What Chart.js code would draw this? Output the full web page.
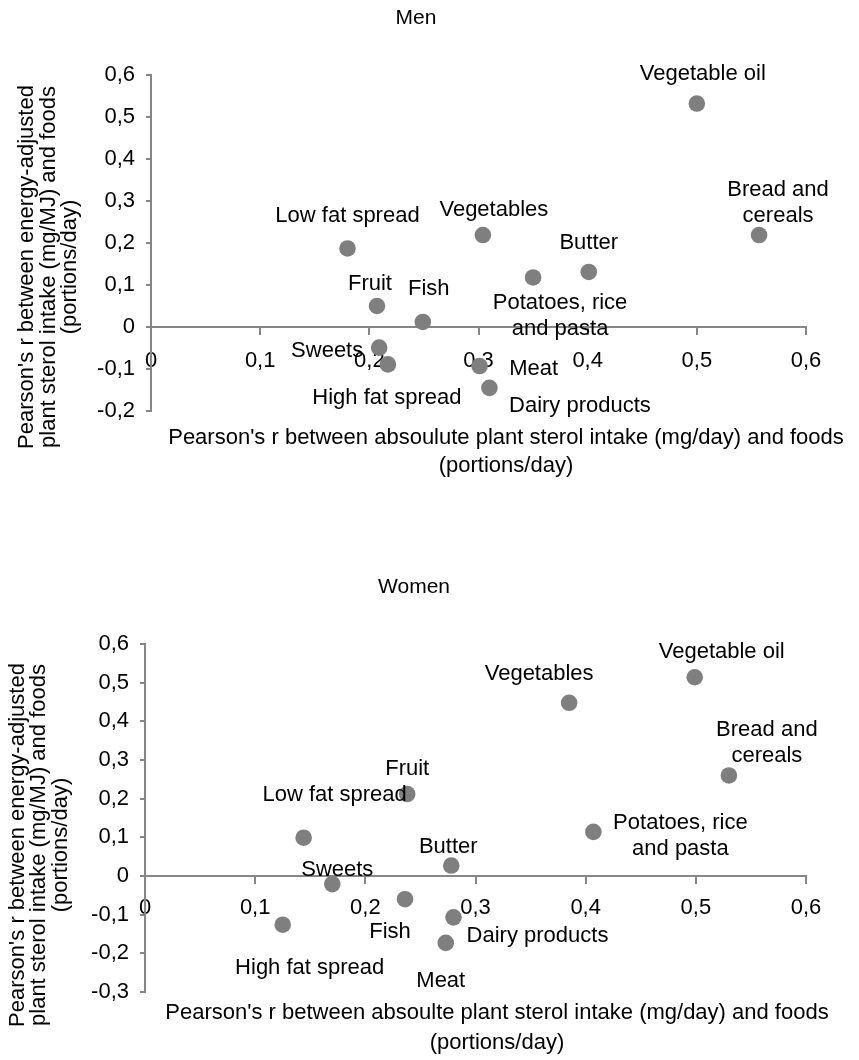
<!DOCTYPE html>
<html>
<head>
<meta charset="utf-8">
<script src="https://cdn.jsdelivr.net/npm/chart.js@4.4.0/dist/chart.umd.min.js"></script>
<style>
html,body{margin:0;padding:0;background:#fff;}
#wrap{position:relative;width:859px;height:1060px;overflow:hidden;background:#fff;}
.box{position:absolute;left:0;width:859px;height:530px;}
</style>
</head>
<body>
<div id="wrap">
  <div class="box" style="top:0"><canvas id="men"></canvas></div>
  <div class="box" style="top:530px"><canvas id="women"></canvas></div>
</div>
<script>
// ---------- data ----------
const categories = ['Vegetable oil', 'Bread and\ncereals', 'Vegetables', 'Butter', 'Potatoes, rice\nand pasta',
  'Low fat spread', 'Fruit', 'Fish', 'Sweets', 'High fat spread', 'Meat', 'Dairy products'];

const menX   = [0.500, 0.557, 0.304, 0.401, 0.350, 0.180, 0.207, 0.249, 0.209, 0.217, 0.301, 0.310];
const menY   = [0.532, 0.219, 0.219, 0.131, 0.118, 0.187, 0.050, 0.012, -0.049, -0.089, -0.093, -0.145];

const womenX = [0.499, 0.530, 0.385, 0.278, 0.407, 0.144, 0.238, 0.236, 0.170, 0.125, 0.273, 0.280];
const womenY = [0.514, 0.260, 0.448, 0.027, 0.114, 0.099, 0.212, -0.060, -0.021, -0.126, -0.173, -0.107];

const xTickValues = [0, 0.1, 0.2, 0.3, 0.4, 0.5, 0.6];
const xTickLabels = ['0', '0,1', '0,2', '0,3', '0,4', '0,5', '0,6'];
const menYTickValues = [-0.2, -0.1, 0, 0.1, 0.2, 0.3, 0.4, 0.5, 0.6];
const menYTickLabels = ['-0,2', '-0,1', '0', '0,1', '0,2', '0,3', '0,4', '0,5', '0,6'];
const womenYTickValues = [-0.3, -0.2, -0.1, 0, 0.1, 0.2, 0.3, 0.4, 0.5, 0.6];
const womenYTickLabels = ['-0,3', '-0,2', '-0,1', '0', '0,1', '0,2', '0,3', '0,4', '0,5', '0,6'];

const yTitleLines = ["Pearson's r between energy-adjusted", 'plant sterol intake (mg/MJ) and foods', '(portions/day)'];
const xTitleLines = ["Pearson's r between absoulute plant sterol intake (mg/day) and foods", '(portions/day)'];
const menXTitleLines = xTitleLines;
const womenXTitleLines = ["Pearson's r between absoulte plant sterol intake (mg/day) and foods", '(portions/day)'];

// ---------- styles ----------
const FONT = "'Liberation Sans', Arial, Helvetica, sans-serif";
const AXIS = '#868686';
const DOT = '#7f7f7f';

// label offsets (pixels, centre of text block relative to point)
const menLabelOffsets = [[6,-30],[19,-32],[11,-25],[0,-29],[27,38.5],[0,-33],[-7,-22],[6,-33],[-52,3],[-1,34],[54,2.5],[90.5,18]];
const womenLabelOffsets = [[27,-25],[38,-32.5],[-30,-29],[-3,-19],[87,4],[31,-43],[0,-25],[-15,33],[5,-14],[27,43],[-5,38],[84,19]];

const textPlugin = {
  id: 'texts',
  afterDatasetsDraw(chart, args, opts) {
    const ctx = chart.ctx;
    ctx.save();
    ctx.fillStyle = '#000';
    ctx.textAlign = 'center';
    ctx.textBaseline = 'middle';
    // point labels
    const meta = chart.getDatasetMeta(0);
    ctx.font = '22px ' + FONT;
    meta.data.forEach((pt, i) => {
      const lines = categories[i].split('\n');
      const off = opts.offsets[i];
      const lh = 25.5;
      const y0 = pt.y + off[1] - (lines.length - 1) * lh / 2;
      lines.forEach((ln, k) => ctx.fillText(ln, pt.x + off[0], y0 + k * lh));
    });
    // chart title
    ctx.font = '21px ' + FONT;
    ctx.fillText(opts.title.text, opts.title.x, opts.title.y);
    // x title
    ctx.font = '22px ' + FONT;
    opts.xTitle.lines.forEach((ln, k) => ctx.fillText(ln, opts.xTitle.cx, opts.xTitle.ys[k]));
    // y title
    opts.yTitle.lines.forEach((ln, k) => {
      ctx.save();
      ctx.translate(opts.yTitle.xs[k], opts.yTitle.cy);
      ctx.rotate(-Math.PI / 2);
      ctx.fillText(ln, 0, 0);
      ctx.restore();
    });
    ctx.restore();
  }
};

function makeChart(id, xs, ys, cfg) {
  const points = xs.map((x, i) => ({ x: x, y: ys[i] }));
  return new Chart(document.getElementById(id), {
    type: 'scatter',
    data: {
      labels: categories,
      datasets: [{
        data: points,
        backgroundColor: DOT,
        borderWidth: 0,
        pointRadius: 8.3,
        pointHoverRadius: 8.3
      }]
    },
    options: {
      responsive: true,
      maintainAspectRatio: false,
      animation: false,
      events: [],
      layout: { padding: cfg.padding },
      plugins: {
        legend: { display: false },
        tooltip: { enabled: false },
        title: { display: false },
        texts: {
          offsets: cfg.offsets,
          title: cfg.title,
          xTitle: cfg.xTitle,
          yTitle: cfg.yTitle
        }
      },
      scales: {
        x: {
          type: 'linear',
          position: { y: 0 },
          min: 0,
          max: 0.6,
          afterBuildTicks: s => { s.ticks = xTickValues.map(v => ({ value: v })); },
          ticks: {
            callback: (v, i) => xTickLabels[i],
            font: { family: FONT, size: 22 },
            color: '#000',
            padding: cfg.xTickPad,
            autoSkip: false,
            maxRotation: 0
          },
          grid: { drawOnChartArea: false, drawTicks: true, tickLength: 7, color: AXIS, lineWidth: 2 },
          border: { display: true, color: AXIS, width: 2 },
          title: { display: false }
        },
        y: {
          type: 'linear',
          position: 'left',
          min: cfg.yMin,
          max: 0.6,
          afterBuildTicks: s => { s.ticks = cfg.yTicks.map(v => ({ value: v })); },
          afterFit: s => { s.width = 70; },
          ticks: {
            callback: (v, i) => cfg.yLabels[i],
            font: { family: FONT, size: 22 },
            color: '#000',
            padding: 11,
            autoSkip: false
          },
          grid: { drawOnChartArea: false, drawTicks: true, tickLength: 5, color: AXIS, lineWidth: 2 },
          border: { display: true, color: AXIS, width: 2 },
          title: { display: false }
        }
      }
    },
    plugins: [textPlugin]
  });
}

makeChart('men', menX, menY, {
  yMin: -0.2, yTicks: menYTickValues, yLabels: menYTickLabels,
  padding: { left: 81, top: 75, right: 53, bottom: 119 },
  xTickPad: 13.5,
  offsets: menLabelOffsets,
  title: { text: 'Men', x: 416, y: 18.5 },
  xTitle: { lines: menXTitleLines, cx: 506, ys: [438, 466] },
  yTitle: { lines: yTitleLines, xs: [27, 48.5, 70], cy: 267 }
});

makeChart('women', womenX, womenY, {
  yMin: -0.3, yTicks: womenYTickValues, yLabels: womenYTickLabels,
  padding: { left: 75, top: 114, right: 53, bottom: 68 },
  xTickPad: 11.5,
  offsets: womenLabelOffsets,
  title: { text: 'Women', x: 414, y: 57.5 },
  xTitle: { lines: womenXTitleLines, cx: 497, ys: [483, 513] },
  yTitle: { lines: yTitleLines, xs: [17.5, 39, 60.5], cy: 315 }
});
</script>
</body>
</html>
